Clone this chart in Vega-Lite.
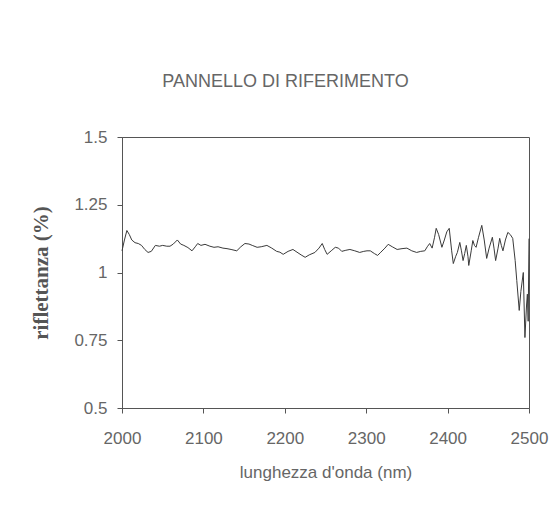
{
  "$schema": "https://vega.github.io/schema/vega-lite/v6.json",
  "autosize": "none",
  "width": 407,
  "height": 271,
  "padding": {"left": 122, "top": 137, "right": 30, "bottom": 100},
  "background": "white",
  "title": {
    "text": "PANNELLO DI RIFERIMENTO",
    "font": "Liberation Sans",
    "fontSize": 18,
    "fontWeight": "normal",
    "color": "#666666",
    "anchor": "middle",
    "dx": -40,
    "offset": 23,
    "baseline": "alphabetic"
  },
  "data": {
    "values": [
      {"nm": 2000, "r": 1.08}, {"nm": 2003, "r": 1.12}, {"nm": 2006, "r": 1.155}, {"nm": 2009, "r": 1.14},
      {"nm": 2012, "r": 1.12}, {"nm": 2016, "r": 1.11}, {"nm": 2020, "r": 1.107}, {"nm": 2024, "r": 1.1},
      {"nm": 2028, "r": 1.085}, {"nm": 2032, "r": 1.074}, {"nm": 2036, "r": 1.078}, {"nm": 2041, "r": 1.1},
      {"nm": 2046, "r": 1.097}, {"nm": 2050, "r": 1.1}, {"nm": 2055, "r": 1.097}, {"nm": 2059, "r": 1.097},
      {"nm": 2063, "r": 1.105}, {"nm": 2068, "r": 1.12}, {"nm": 2072, "r": 1.105}, {"nm": 2076, "r": 1.1},
      {"nm": 2081, "r": 1.092}, {"nm": 2086, "r": 1.08}, {"nm": 2090, "r": 1.095}, {"nm": 2093, "r": 1.107},
      {"nm": 2097, "r": 1.1}, {"nm": 2102, "r": 1.104}, {"nm": 2108, "r": 1.097}, {"nm": 2113, "r": 1.093},
      {"nm": 2118, "r": 1.095}, {"nm": 2124, "r": 1.09}, {"nm": 2129, "r": 1.088}, {"nm": 2134, "r": 1.085},
      {"nm": 2141, "r": 1.08}, {"nm": 2146, "r": 1.095}, {"nm": 2151, "r": 1.107}, {"nm": 2156, "r": 1.105},
      {"nm": 2160, "r": 1.1}, {"nm": 2166, "r": 1.093}, {"nm": 2171, "r": 1.095}, {"nm": 2178, "r": 1.1},
      {"nm": 2184, "r": 1.09}, {"nm": 2190, "r": 1.078}, {"nm": 2194, "r": 1.075}, {"nm": 2198, "r": 1.067},
      {"nm": 2204, "r": 1.078}, {"nm": 2210, "r": 1.085}, {"nm": 2215, "r": 1.075}, {"nm": 2220, "r": 1.065},
      {"nm": 2225, "r": 1.056}, {"nm": 2230, "r": 1.065}, {"nm": 2237, "r": 1.074}, {"nm": 2242, "r": 1.09},
      {"nm": 2246, "r": 1.107}, {"nm": 2249, "r": 1.085}, {"nm": 2252, "r": 1.067}, {"nm": 2257, "r": 1.08},
      {"nm": 2262, "r": 1.093}, {"nm": 2266, "r": 1.09}, {"nm": 2270, "r": 1.078}, {"nm": 2275, "r": 1.082},
      {"nm": 2280, "r": 1.085}, {"nm": 2286, "r": 1.08}, {"nm": 2292, "r": 1.074}, {"nm": 2297, "r": 1.078},
      {"nm": 2301, "r": 1.08}, {"nm": 2305, "r": 1.08}, {"nm": 2310, "r": 1.07}, {"nm": 2314, "r": 1.063},
      {"nm": 2318, "r": 1.075}, {"nm": 2323, "r": 1.09}, {"nm": 2327, "r": 1.104}, {"nm": 2332, "r": 1.095},
      {"nm": 2338, "r": 1.085}, {"nm": 2344, "r": 1.088}, {"nm": 2350, "r": 1.09}, {"nm": 2356, "r": 1.08},
      {"nm": 2362, "r": 1.074}, {"nm": 2367, "r": 1.078}, {"nm": 2372, "r": 1.08}, {"nm": 2375, "r": 1.095},
      {"nm": 2378, "r": 1.107}, {"nm": 2381, "r": 1.09}, {"nm": 2384, "r": 1.13}, {"nm": 2386, "r": 1.163},
      {"nm": 2389, "r": 1.14}, {"nm": 2393, "r": 1.093}, {"nm": 2396, "r": 1.12}, {"nm": 2399, "r": 1.15},
      {"nm": 2402, "r": 1.163}, {"nm": 2405, "r": 1.08}, {"nm": 2407, "r": 1.033}, {"nm": 2410, "r": 1.06},
      {"nm": 2412, "r": 1.074}, {"nm": 2415, "r": 1.111}, {"nm": 2417, "r": 1.08}, {"nm": 2419, "r": 1.044},
      {"nm": 2421, "r": 1.07}, {"nm": 2423, "r": 1.1}, {"nm": 2425, "r": 1.06}, {"nm": 2426, "r": 1.026},
      {"nm": 2429, "r": 1.08}, {"nm": 2431, "r": 1.118}, {"nm": 2433, "r": 1.1}, {"nm": 2435, "r": 1.093},
      {"nm": 2438, "r": 1.13}, {"nm": 2442, "r": 1.174}, {"nm": 2445, "r": 1.12}, {"nm": 2448, "r": 1.052},
      {"nm": 2451, "r": 1.09}, {"nm": 2455, "r": 1.13}, {"nm": 2457, "r": 1.09}, {"nm": 2459, "r": 1.044},
      {"nm": 2462, "r": 1.09}, {"nm": 2464, "r": 1.126}, {"nm": 2466, "r": 1.1}, {"nm": 2468, "r": 1.08},
      {"nm": 2471, "r": 1.12}, {"nm": 2474, "r": 1.148}, {"nm": 2477, "r": 1.14}, {"nm": 2480, "r": 1.126},
      {"nm": 2483, "r": 1.044}, {"nm": 2485, "r": 0.97}, {"nm": 2488, "r": 0.86}, {"nm": 2490, "r": 0.93},
      {"nm": 2493, "r": 1.0}, {"nm": 2495, "r": 0.76}, {"nm": 2497, "r": 0.88}, {"nm": 2498, "r": 0.92},
      {"nm": 2499, "r": 0.82}, {"nm": 2500, "r": 1.125}
    ]
  },
  "mark": {"type": "line", "color": "#3a3a3a", "strokeWidth": 1, "interpolate": "linear"},
  "encoding": {
    "x": {
      "field": "nm",
      "type": "quantitative",
      "scale": {"domain": [2000, 2500], "nice": false, "zero": false},
      "axis": {
        "title": "lunghezza d'onda (nm)",
        "values": [2000, 2100, 2200, 2300, 2400, 2500],
        "format": "d",
        "grid": false,
        "tickSize": 5,
        "labelFlush": false,
        "labelOverlap": false,
        "labelPadding": 17,
        "titlePadding": 18,
        "labelFont": "Liberation Sans",
        "labelFontSize": 17,
        "labelColor": "#666666",
        "titleFont": "Liberation Sans",
        "titleFontSize": 17,
        "titleFontWeight": "normal",
        "titleColor": "#666666",
        "domainColor": "#555555",
        "tickColor": "#555555"
      }
    },
    "y": {
      "field": "r",
      "type": "quantitative",
      "scale": {"domain": [0.5, 1.5], "nice": false, "zero": false},
      "axis": {
        "title": "riflettanza (%)",
        "values": [0.5, 0.75, 1, 1.25, 1.5],
        "labelExpr": "datum.value + ''",
        "grid": false,
        "tickSize": 5,
        "labelFlush": false,
        "labelPadding": 10,
        "titlePadding": 22,
        "labelFont": "Liberation Sans",
        "labelFontSize": 17,
        "labelColor": "#666666",
        "titleFont": "Liberation Serif",
        "titleFontSize": 21,
        "titleFontWeight": "bold",
        "titleColor": "#555555",
        "domainColor": "#555555",
        "tickColor": "#555555"
      }
    }
  },
  "config": {
    "view": {"stroke": "#555555", "strokeWidth": 1}
  }
}
